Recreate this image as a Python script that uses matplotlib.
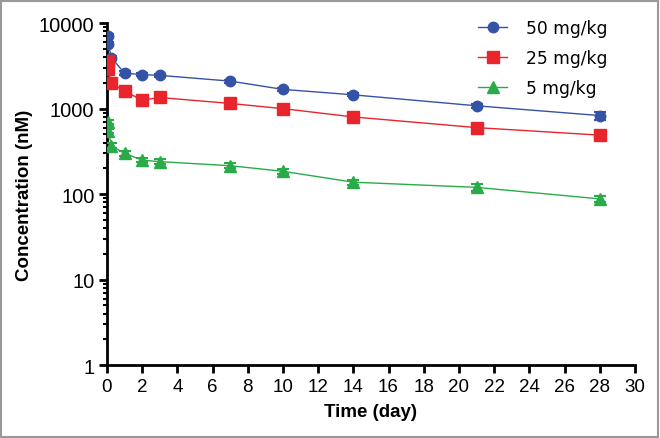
import matplotlib
matplotlib.use("Agg")
import matplotlib.pyplot as plt
from matplotlib.ticker import LogLocator, FixedLocator, NullFormatter
from matplotlib.patches import Rectangle
from matplotlib.lines import Line2D

time_50 = [0.04, 0.08, 0.25, 1, 2, 3, 7, 10, 14, 21, 28]
conc_50 = [7100, 5700, 3950, 2600, 2500, 2450, 2100, 1680, 1450, 1080, 830]
err_50 = [300, 250, 150, 120, 80, 80, 90, 70, 60, 60, 90]

time_25 = [0.04, 0.08, 0.25, 1, 2, 3, 7, 10, 14, 21, 28]
conc_25 = [3600, 2900, 2000, 1600, 1260, 1350, 1150, 1000, 800, 600, 490]
err_25 = [250, 200, 120, 250, 120, 80, 100, 50, 40, 40, 30]

time_5 = [0.04, 0.08, 0.25, 1, 2, 3, 7, 10, 14, 21, 28]
conc_5 = [700, 550, 370, 300, 250, 240, 215, 185, 138, 120, 88]
err_5 = [40, 30, 25, 20, 15, 15, 15, 12, 10, 10, 8]

labels = ["50 mg/kg", "25 mg/kg", "5 mg/kg"]
colors = ["#3553a6", "#e8242c", "#2aab4a"]
markers = ["o", "s", "^"]
msizes = [7.5, 8, 8]
x_ticks = list(range(0, 31, 2))
y_ticks = [1, 10, 100, 1000, 10000]

plt.rcParams['font.family'] = ['Liberation Sans', 'DejaVu Sans']

fig = plt.figure(figsize=(6.6, 4.39), dpi=100)
ax = fig.add_axes([0.162, 0.166, 0.800, 0.779])

series = [(time_50, conc_50, err_50), (time_25, conc_25, err_25), (time_5, conc_5, err_5)]
handles = []
for (t, c, e), lab, col, mk, ms in zip(series, labels, colors, markers, msizes):
    ax.errorbar(t, c, yerr=e, color=col, marker=mk, markersize=ms,
                lw=1.0, elinewidth=1.2, capsize=4, capthick=1.5, zorder=3)
    handles.append(Line2D([], [], color=col, marker=mk, markersize=ms, lw=1.0, label=lab))

ax.set_yscale("log")
ax.set_xlim(0, 30)
ax.set_ylim(1, 10000)
ax.set_xticks(x_ticks)
ax.set_xticklabels([str(v) for v in x_ticks])
ax.yaxis.set_major_locator(FixedLocator(y_ticks))
ax.set_yticklabels([str(v) for v in y_ticks])
ax.yaxis.set_minor_locator(LogLocator(base=10, subs=range(2, 10)))
ax.yaxis.set_minor_formatter(NullFormatter())

for s in ["top", "right"]:
    ax.spines[s].set_visible(False)
for s in ["left", "bottom"]:
    ax.spines[s].set_linewidth(2)
ax.tick_params(axis="both", which="major", direction="out", width=2, length=6, pad=3)
ax.tick_params(axis="y", which="major", labelsize=14.5)
ax.tick_params(axis="x", which="major", labelsize=13.5)
ax.tick_params(axis="y", which="minor", direction="out", width=1.5, length=3)

ax.set_xlabel("Time (day)", fontsize=13.5, fontweight="bold", labelpad=6)
ax.set_ylabel("Concentration (nM)", fontsize=13.5, fontweight="bold", labelpad=4)

leg = fig.legend(handles=handles, loc="upper left", bbox_to_anchor=(478 / 660, 1 - 20 / 439),
                 frameon=False, prop={"family": "DejaVu Sans", "size": 12.3},
                 handlelength=1.7, handletextpad=1.1, labelspacing=0.7,
                 borderpad=0, borderaxespad=0)

fig.patches.append(Rectangle((0.002, 0.003), 0.995, 0.993, transform=fig.transFigure,
                             fill=False, edgecolor="#999999", lw=1.5))

fig.savefig("out.png", dpi=100)
